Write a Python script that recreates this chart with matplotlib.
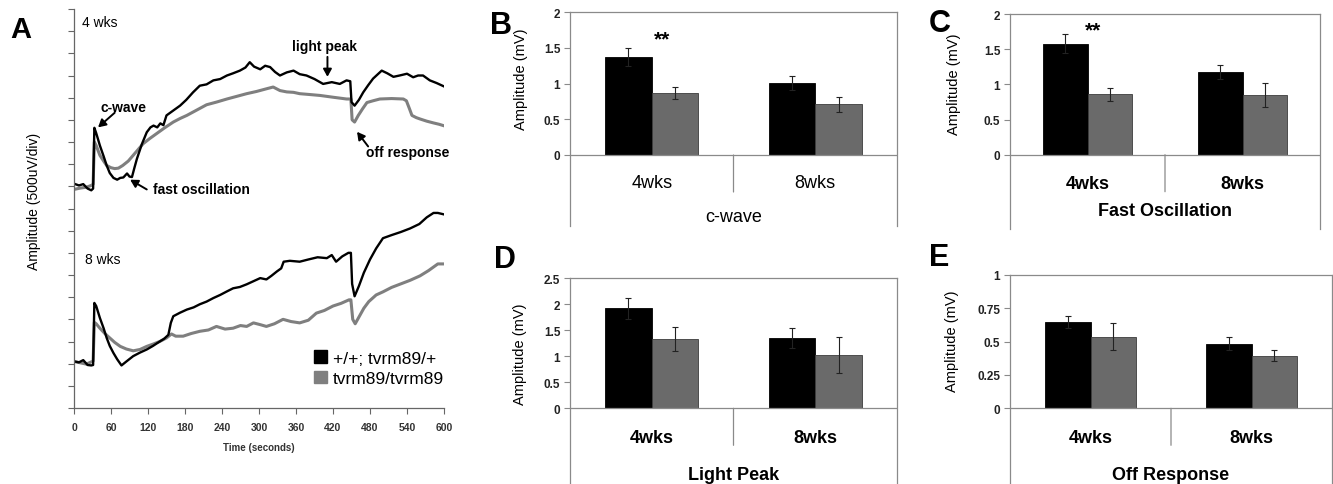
import matplotlib.pyplot as plt
import numpy as np
from matplotlib.patches import Patch

plt.rcParams['font.family'] = ['Liberation Sans', 'DejaVu Sans']

W, H = 1333, 485

# ---- panel A: traces (mV above each baseline) ----
wt_4wk_t = [0, 8, 15, 22, 28, 31, 33, 36, 42, 48, 53, 58, 64, 70, 75, 80, 86, 90, 94, 98,
            102, 110, 118, 124, 129, 135, 140, 145, 150, 160, 172, 182, 193, 204, 215, 226,
            237, 248, 258, 269, 278, 285, 292, 302, 310, 318, 326, 334, 345, 356, 366, 377,
            390, 404, 418, 431, 442, 448, 450, 455, 462, 469, 477, 485, 492, 499, 508, 518,
            528, 540, 550, 558, 566, 577, 588, 599]
wt_4wk_mv = [0.06, 0.02, 0.05, -0.05, -0.09, -0.05, 1.32, 1.2, 0.92, 0.68, 0.47, 0.3, 0.19,
             0.15, 0.19, 0.2, 0.29, 0.22, 0.21, 0.42, 0.62, 0.95, 1.22, 1.33, 1.37, 1.33, 1.42,
             1.38, 1.6, 1.7, 1.82, 1.95, 2.12, 2.27, 2.3, 2.39, 2.42, 2.5, 2.55, 2.61, 2.68, 2.8,
             2.7, 2.64, 2.72, 2.69, 2.58, 2.5, 2.57, 2.61, 2.53, 2.5, 2.42, 2.31, 2.35, 2.31,
             2.39, 2.37, 1.9, 1.82, 1.95, 2.12, 2.28, 2.43, 2.52, 2.61, 2.55, 2.47, 2.5, 2.54,
             2.46, 2.5, 2.5, 2.39, 2.33, 2.26]

mut_4wk_t = [0, 10, 20, 28, 31, 33, 36, 42, 48, 53, 60, 66, 72, 79, 88, 96, 104, 112, 123,
             134, 147, 161, 172, 183, 199, 215, 231, 248, 264, 280, 296, 312, 323, 334, 345,
             356, 366, 383, 399, 420, 442, 449, 451, 455, 461, 468, 475, 485, 496, 515, 534,
             539, 544, 548, 555, 561, 572, 583, 592, 599]
mut_4wk_mv = [-0.07, -0.04, -0.02, 0.02, 0.05, 1.0, 0.92, 0.7, 0.57, 0.47, 0.42, 0.4, 0.41,
              0.47, 0.57, 0.7, 0.83, 0.96, 1.08, 1.19, 1.32, 1.45, 1.53, 1.6, 1.72, 1.84, 1.9,
              1.97, 2.03, 2.09, 2.14, 2.2, 2.24, 2.16, 2.13, 2.12, 2.09, 2.07, 2.05, 2.01, 1.97,
              1.97, 1.5, 1.45, 1.6, 1.75, 1.89, 1.93, 1.97, 1.98, 1.97, 1.93, 1.75, 1.6, 1.55,
              1.52, 1.47, 1.43, 1.4, 1.37]

wt_8wk_t = [0, 8, 15, 22, 28, 31, 33, 36, 42, 48, 53, 58, 64, 70, 77, 85, 96, 107, 118, 128,
            139, 146, 153, 157, 161, 172, 183, 194, 204, 215, 226, 237, 248, 258, 269, 280,
            291, 302, 312, 320, 329, 336, 340, 350, 366, 380, 395, 410, 418, 425, 435, 445,
            449, 451, 455, 462, 470, 480, 490, 501, 515, 530, 545, 560, 572, 583, 590, 599]
wt_8wk_mv = [0.05, 0.03, 0.08, -0.03, -0.04, -0.03, 1.37, 1.3, 1.03, 0.8, 0.58, 0.4, 0.24,
             0.1, -0.04, 0.05, 0.17, 0.25, 0.32, 0.4, 0.5, 0.56, 0.65, 0.92, 1.07, 1.15, 1.22,
             1.27, 1.34, 1.4, 1.48, 1.55, 1.63, 1.7, 1.73, 1.79, 1.86, 1.93, 1.9, 1.98, 2.08,
             2.15, 2.3, 2.32, 2.3, 2.35, 2.4, 2.38, 2.45, 2.3, 2.42, 2.5, 2.5, 1.8, 1.52, 1.75,
             2.05, 2.35, 2.6, 2.83, 2.9, 2.97, 3.05, 3.15, 3.3, 3.4, 3.4, 3.37]

mut_8wk_t = [0, 10, 20, 28, 31, 33, 36, 42, 50, 58, 66, 75, 85, 96, 107, 118, 128, 139, 150,
             158, 165, 177, 190, 204, 218, 231, 245, 258, 270, 280, 291, 302, 312, 325, 339,
             352, 366, 380, 393, 406, 420, 433, 446, 449, 452, 456, 462, 470, 478, 490, 501,
             515, 530, 545, 561, 575, 590, 599]
mut_8wk_mv = [0.05, 0.02, -0.01, 0.04, 0.06, 0.93, 0.9, 0.8, 0.68, 0.58, 0.48, 0.39, 0.33,
              0.29, 0.32, 0.39, 0.44, 0.5, 0.58, 0.67, 0.62, 0.62, 0.68, 0.73, 0.76, 0.84, 0.78,
              0.8, 0.86, 0.84, 0.92, 0.88, 0.84, 0.9, 1.0, 0.95, 0.92, 0.98, 1.14, 1.2, 1.3,
              1.36, 1.44, 1.44, 1.0, 0.9, 1.05, 1.25, 1.4, 1.55, 1.62, 1.72, 1.8, 1.88, 1.98,
              2.1, 2.25, 2.25]

# ---- panels B-E: bar data (mV) ----
groups = ['4wks', '8wks']
cwave_wt, cwave_wt_err = [1.37, 1.01], [0.12, 0.10]
cwave_mut, cwave_mut_err = [0.87, 0.71], [0.08, 0.105]
fast_wt, fast_wt_err = [1.58, 1.17], [0.14, 0.10]
fast_mut, fast_mut_err = [0.86, 0.85], [0.095, 0.17]
light_wt, light_wt_err = [1.92, 1.35], [0.21, 0.19]
light_mut, light_mut_err = [1.33, 1.02], [0.225, 0.35]
off_wt, off_wt_err = [0.645, 0.485], [0.045, 0.05]
off_mut, off_mut_err = [0.535, 0.395], [0.10, 0.04]

BLACK = '#000000'
GRAY_TRACE = '#7f7f7f'
GRAY_BAR = '#6a6a6a'
FRAME = '#8a8a8a'


def box(left, top, right, bottom):
    return [left / W, (H - bottom) / H, (right - left) / W, (bottom - top) / H]


fig = plt.figure(figsize=(W / 100, H / 100), dpi=100)

# ================= panel A =================
ax = fig.add_axes(box(74, 10, 444, 409))
ax.plot(mut_4wk_t, np.array(mut_4wk_mv) + 5.0, color=GRAY_TRACE, lw=2.2)
ax.plot(wt_4wk_t, np.array(wt_4wk_mv) + 5.0, color=BLACK, lw=1.7)
ax.plot(mut_8wk_t, np.array(mut_8wk_mv) + 1.0, color=GRAY_TRACE, lw=2.2)
ax.plot(wt_8wk_t, np.array(wt_8wk_mv) + 1.0, color=BLACK, lw=1.7)
ax.set_xlim(0, 600)
ax.set_ylim(0, 9)
ax.set_xticks(range(0, 601, 60))
ax.set_yticks(np.arange(0, 9.01, 0.5))
ax.set_yticklabels([])
for s in ['top', 'right']:
    ax.spines[s].set_visible(False)
for s in ['left', 'bottom']:
    ax.spines[s].set_color('#666666')
    ax.spines[s].set_linewidth(0.9)
ax.tick_params(direction='out', length=4, width=0.8, color='#666666', pad=6)
for lab in ax.get_xticklabels():
    lab.set_fontsize(7.5)
    lab.set_fontweight('bold')
    lab.set_color('#333333')
ax.set_xlabel('Time (seconds)', fontsize=7, fontweight='bold', color='#333333')
ax.xaxis.set_label_coords(0.5, -0.085)
ax.set_ylabel('Amplitude (500uV/div)', fontsize=10)
ax.yaxis.set_label_coords(-0.09, 0.52)

ax.text(13, 8.7, '4 wks', fontsize=10, va='center', ha='left')
ax.text(18, 3.35, '8 wks', fontsize=10, va='center', ha='left')

arrow = dict(arrowstyle='-|>,head_length=0.45,head_width=0.25', color='black', lw=1.4,
             shrinkA=0, shrinkB=0)
ax.text(80, 6.78, 'c-wave', fontsize=10, fontweight='bold', ha='center', va='center')
ax.annotate('', xy=(39, 6.33), xytext=(66, 6.66), arrowprops=arrow)
ax.text(128, 4.95, 'fast oscillation', fontsize=10, fontweight='bold', ha='left', va='center')
ax.annotate('', xy=(91, 5.15), xytext=(118, 4.93), arrowprops=arrow)
ax.text(406, 8.17, 'light peak', fontsize=10, fontweight='bold', ha='center', va='center')
ax.annotate('', xy=(411, 7.47), xytext=(411, 7.92), arrowprops=arrow)
ax.text(473, 5.77, 'off response', fontsize=10, fontweight='bold', ha='left', va='center')
ax.annotate('', xy=(459, 6.23), xytext=(477, 5.9), arrowprops=arrow)

handles = [Patch(facecolor=BLACK, edgecolor=BLACK), Patch(facecolor=GRAY_TRACE, edgecolor=GRAY_TRACE)]
leg = ax.legend(handles, ['+/+; tvrm89/+', 'tvrm89/tvrm89'], loc='upper right',
                bbox_to_anchor=(1.0, 0.145), frameon=False, fontsize=12.5,
                handlelength=0.75, handleheight=0.75, handletextpad=0.35,
                labelspacing=0.3, borderpad=0, borderaxespad=0)

fig.text(10 / W, 1 - 30 / H, 'A', fontsize=21, fontweight='bold', va='center', ha='left')


# ================= panels B-E =================
def bar_panel(rect_px, zero_px, ymax, yticks, tick_fmt, wt, wt_err, mut, mut_err,
              title, weight, cat_off, title_off, ylab_pos, stars=None):
    left, top, right, bottom = rect_px
    ax = fig.add_axes(box(left, top, right, bottom))
    per = (zero_px - top) / ymax
    ymin = -(bottom - zero_px) / per
    x = np.arange(len(groups)) + 0.5
    w = 0.285
    ax.bar(x - w, wt, w, align='edge', color=BLACK, edgecolor=BLACK, lw=0.6)
    ax.bar(x, mut, w, align='edge', color=GRAY_BAR, edgecolor='#3c3c3c', lw=0.6)
    ax.errorbar(x - w / 2, wt, yerr=wt_err, fmt='none', ecolor='#222222', elinewidth=0.8,
                capsize=2, capthick=0.8)
    ax.errorbar(x + w / 2, mut, yerr=mut_err, fmt='none', ecolor='#222222', elinewidth=0.8,
                capsize=2, capthick=0.8)
    ax.set_xlim(0, 2)
    ax.set_ylim(ymin, ymax)
    ax.axhline(0, color=FRAME, lw=0.9)
    ax.annotate('', xy=(1, 0), xytext=(0, -37), textcoords='offset pixels',
                arrowprops=dict(arrowstyle='-', color=FRAME, lw=0.9, shrinkA=0, shrinkB=0))
    ax.set_xticks([])
    ax.set_yticks(yticks)
    ax.set_yticklabels([tick_fmt(v) for v in yticks], fontsize=8.5, fontweight='bold',
                       color='#222222')
    ax.tick_params(axis='y', direction='out', length=4, width=0.8, color=FRAME, pad=3)
    ax.spines['bottom'].set_visible(False)
    for s in ['top', 'left', 'right']:
        ax.spines[s].set_color(FRAME)
        ax.spines[s].set_linewidth(0.9)
    for xi, g in zip(x, groups):
        ax.annotate(g, xy=(xi, 0), xytext=(0, -cat_off), textcoords='offset pixels',
                    ha='center', va='center', fontsize=13, fontweight=weight)
    ax.annotate(title, xy=(1, 0), xytext=(0, -title_off), textcoords='offset pixels',
                ha='center', va='center', fontsize=13, fontweight=weight, annotation_clip=False)
    ax.set_ylabel('Amplitude (mV)', fontsize=10.5)
    ax.yaxis.set_label_coords(*ylab_pos)
    if stars is not None:
        ax.text(stars[0], stars[1], '**', fontsize=15, fontweight='bold', ha='center',
                va='baseline')
    return ax


def fmt_num(v):
    return ('%g' % v)


bar_panel((570, 13, 897, 227), 156, 2, [0, 0.5, 1, 1.5, 2], fmt_num,
          cwave_wt, cwave_wt_err, cwave_mut, cwave_mut_err, 'c-wave', 'normal',
          27, 61, (-0.128, 0.69), stars=(0.56, 1.54))
bar_panel((1010, 15, 1320, 230), 155.7, 2, [0, 0.5, 1, 1.5, 2], fmt_num,
          fast_wt, fast_wt_err, fast_mut, fast_mut_err, 'Fast Oscillation', 'bold',
          29, 56, (-0.158, 0.68), stars=(0.535, 1.70))
bar_panel((570, 279.3, 897, 485), 409.3, 2.5, [0, 0.5, 1, 1.5, 2, 2.5], fmt_num,
          light_wt, light_wt_err, light_mut, light_mut_err, 'Light Peak', 'bold',
          29, 66, (-0.13, 0.637))
bar_panel((1010, 275.7, 1332, 485), 409.3, 1, [0, 0.25, 0.5, 0.75, 1], fmt_num,
          off_wt, off_wt_err, off_mut, off_mut_err, 'Off Response', 'bold',
          29, 66, (-0.158, 0.688))

fig.text(490 / W, 1 - 26 / H, 'B', fontsize=22, fontweight='bold', va='center', ha='left')
fig.text(929 / W, 1 - 24 / H, 'C', fontsize=22, fontweight='bold', va='center', ha='left')
fig.text(494 / W, 1 - 260 / H, 'D', fontsize=22, fontweight='bold', va='center', ha='left')
fig.text(929 / W, 1 - 258 / H, 'E', fontsize=22, fontweight='bold', va='center', ha='left')

fig.savefig('out.png', dpi=100)
